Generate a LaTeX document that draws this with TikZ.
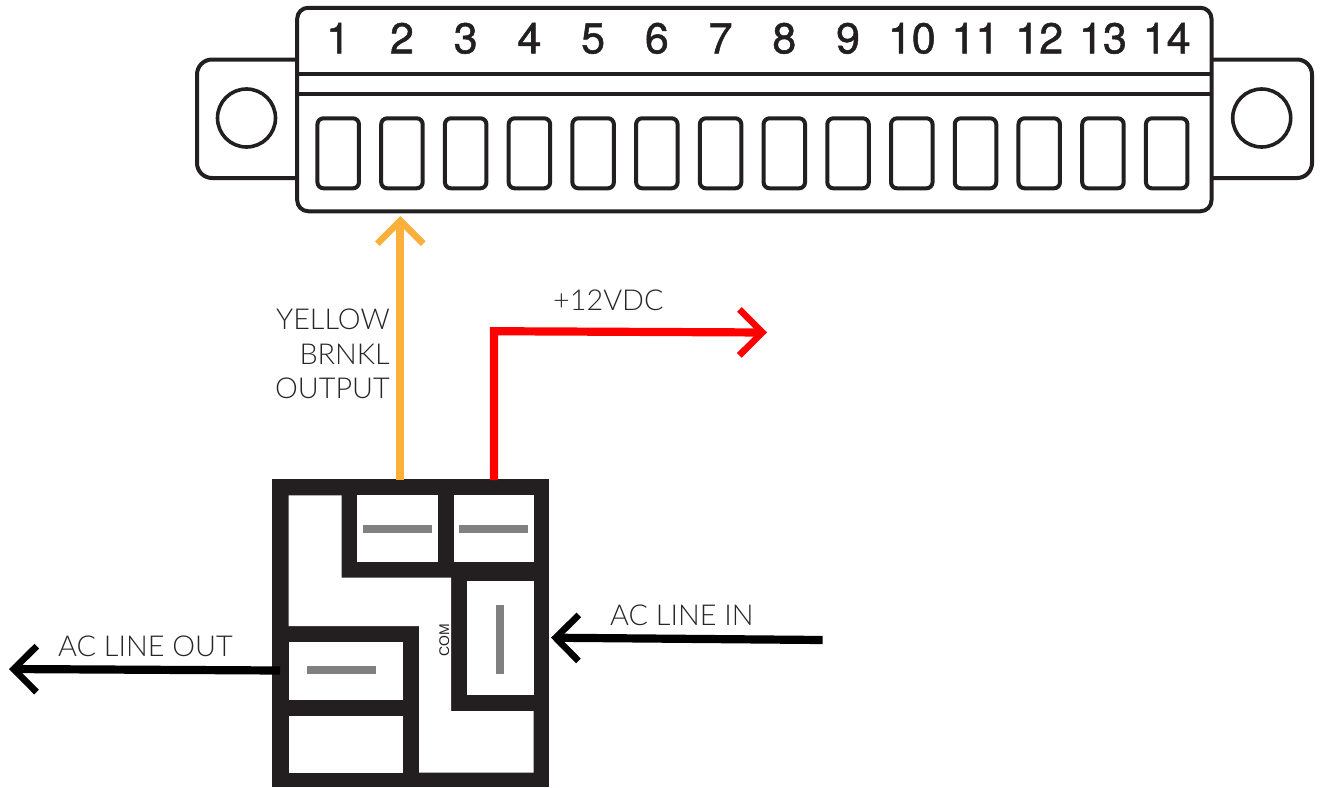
\documentclass[tikz,border=0pt]{standalone}
\usepackage{fontspec}
\usetikzlibrary{arrows.meta}
\setmainfont{TeX Gyre Heros}
\newfontfamily\numfont[FakeBold=1.2]{TeX Gyre Heros}
\newfontfamily\lblfont{Lato Light}
\newfontfamily\comfont{Liberation Sans}
\definecolor{ink}{HTML}{231F20}
\definecolor{barg}{HTML}{808080}
\definecolor{amber}{HTML}{FBB03B}
\definecolor{wirered}{HTML}{FF0000}
\definecolor{lbl}{HTML}{262626}
\tikzset{
  x=1pt,y=-1pt,
  outline/.style={draw=ink,line width=4pt,line join=round},
  slotbox/.style={outline,fill=white,inner sep=0pt,outer sep=0pt,minimum width=41.5pt,minimum height=70pt,rounded corners=6pt},
  holecirc/.style={draw=ink,line width=3.6pt,circle,fill=white,inner sep=0pt,outer sep=0pt,minimum size=58pt},
  numlbl/.style={inner sep=0pt,anchor=base,text=ink,font=\numfont\fontsize{43}{43}\selectfont},
  cell/.style={fill=white,inner sep=0pt,outer sep=0pt},
  bar/.style={fill=barg,inner sep=0pt,outer sep=0pt},
  txt/.style={inner sep=0pt,text=lbl,font=\lblfont\fontsize{28.8}{28.8}\selectfont},
  wire/.style={line width=8.2pt},
  barb/.style={-{Straight Barb[length=23pt,width=46pt,line width=6.6pt]}}
}
\begin{document}
\begin{tikzpicture}
\useasboundingbox (0,0) rectangle (1321,787);
% mounting tabs
\draw[outline,rounded corners=15pt] (298,59.5) -- (197,59.5) -- (197,178) -- (298,178);
\draw[outline,rounded corners=15pt] (1211,59.5) -- (1312,59.5) -- (1312,178) -- (1211,178);
\node[holecirc] (holeL) at (246.5,118) {};
\node[holecirc] (holeR) at (1261.7,118) {};
% terminal body
\node[outline,fill=white,inner sep=0pt,outer sep=0pt,minimum width=914.3pt,minimum height=203.5pt,rounded corners=11pt] (body) at (754.35,109.5) {};
\coordinate (railAL) at (297,73.5); \coordinate (railAR) at (1211.5,73.5);
\coordinate (railBL) at (297,94); \coordinate (railBR) at (1211.5,94);
\draw[outline] (railAL) -- (railAR);
\draw[outline] (railBL) -- (railBR);
\foreach \i in {1,...,14}{
  \pgfmathsetmacro{\cx}{338.2+63.73*(\i-1)}
  \node[slotbox] (slot\i) at (\cx,153.3) {};
  \node[numlbl] (num\i) at (\cx,53.3) {\i};
}
% relay
\node[fill=ink,inner sep=0pt,outer sep=0pt,minimum width=277pt,minimum height=307.7pt] (relay) at (410.8,633.2) {};
\fill[white] (288.5,495.3) -- (341.7,495.3) -- (341.7,577.7) -- (451,577.7) -- (451,711) -- (533.5,711) -- (533.5,772.7) -- (419,772.7) -- (419,626) -- (288.5,626) -- cycle;
\node[cell,minimum width=80.4pt,minimum height=66.7pt] (cellA) at (397.5,528.65) {};
\node[cell,minimum width=79.5pt,minimum height=66.7pt] (cellB) at (493.75,528.65) {};
\node[cell,minimum width=66.5pt,minimum height=114.6pt] (cellC) at (500.25,638) {};
\node[cell,minimum width=114.5pt,minimum height=58.3pt] (cellD) at (345.75,671.15) {};
\node[cell,minimum width=114.5pt,minimum height=56.4pt] (cellE) at (345.75,744.5) {};
\node[bar,minimum width=69.3pt,minimum height=8.2pt] (barA) at (397.65,529.1) {};
\node[bar,minimum width=69.3pt,minimum height=8.2pt] (barB) at (493.65,529.1) {};
\node[bar,minimum width=8pt,minimum height=69pt] (barC) at (500.3,639.2) {};
\node[bar,minimum width=69.3pt,minimum height=8pt] (barD) at (341.65,670) {};
\node[inner sep=0pt,rotate=90,text=ink,font=\comfont\fontsize{14}{14}\selectfont] (com) at (444.3,640) {COM};
% wires
\coordinate (ySrc) at (400.3,480);
\coordinate (yTip) at (400.3,216);
\draw[wire,amber,barb] (ySrc) -- (yTip);
\coordinate (rSrc) at (494,480);
\coordinate (rBend) at (494,331.2);
\coordinate (rTip) at (767,332.5);
\draw[wire,wirered,barb,line join=miter] (rSrc) -- (rBend) -- (rTip);
\coordinate (oSrc) at (280,670.5);
\coordinate (oTip) at (9,669);
\draw[wire,black,barb] (oSrc) -- (oTip);
\coordinate (iSrc) at (822.7,640);
\coordinate (iTip) at (551,637.7);
\draw[wire,black,barb] (iSrc) -- (iTip);
% labels
\node[txt,anchor=base east] (lab1) at (390,329) {YELLOW};
\node[txt,anchor=base east] (lab2) at (390,364) {BRNKL};
\node[txt,anchor=base east] (lab3) at (390,398.5) {OUTPUT};
\node[txt,anchor=base west] (lab4) at (553,310.5) {+12VDC};
\node[txt,anchor=base west] (lab5) at (58,656) {AC LINE OUT};
\node[txt,anchor=base west] (lab6) at (610,625.7) {AC LINE IN};
\end{tikzpicture}
\end{document}
